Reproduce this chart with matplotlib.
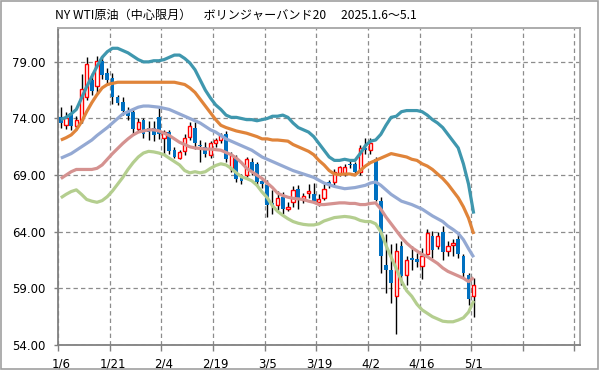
"""
WTI crude (front month) daily candles with Bollinger bands (20), 2025.1.6 - 5.1
"""
import matplotlib
matplotlib.use('Agg')
import matplotlib.pyplot as plt
from matplotlib.patches import Rectangle
from matplotlib.ticker import FixedLocator, FuncFormatter, NullFormatter

TITLE = "NY WTI原油（中心限月）　ボリンジャーバンド20　 2025.1.6～5.1"
TICK_LABELS = ['1/6', '1/21', '2/4', '2/19', '3/5', '3/19', '4/2', '4/16', '5/1']
Y_TICKS = [54, 59, 64, 69, 74, 79]

# daily OHLC, one entry per trading day
opens = [74.1, 73.4, 74.5, 73.3, 73.9, 75.9, 77.4, 76.9, 79.1, 78.0,
         77.6, 75.9, 75.5, 74.7, 74.6, 73.1, 73.9, 73.2, 73.2, 74.1,
         72.3, 72.8, 71.2, 70.5, 71.1, 72.4, 73.2, 71.7, 71.5, 70.8,
         71.8, 72.1, 72.6, 69.5, 70.5, 68.9, 69.0, 70.2, 70.0, 68.5,
         68.1, 66.5, 66.4, 67.1, 66.0, 66.6, 67.8, 66.8, 67.4, 67.3,
         66.6, 67.0, 68.4, 68.4, 69.2, 69.1, 70.0, 70.0, 69.3, 71.4,
         71.2, 70.4, 66.7, 61.1, 60.6, 58.3, 62.75, 60.2, 61.7, 61.6,
         61.0, 62.0, 63.6, 62.75, 64.0, 62.3, 62.8, 63.4, 61.9, 60.2,
         58.3]
highs = [75.0, 74.6, 75.2, 74.2, 77.9, 79.4, 78.0, 79.5, 79.5, 78.5,
         78.0, 76.1, 75.9, 75.0, 74.9, 74.0, 74.0, 73.8, 73.8, 75.1,
         73.0, 73.0, 71.5, 71.2, 72.6, 73.7, 73.7, 72.1, 71.9, 72.0,
         72.3, 72.7, 72.9, 71.0, 70.8, 69.1, 70.6, 70.5, 70.2, 68.7,
         68.6, 67.7, 67.6, 67.5, 66.6, 68.0, 68.1, 67.4, 68.2, 68.3,
         67.3, 68.2, 68.6, 69.5, 69.8, 70.0, 70.3, 70.2, 71.7, 72.3,
         72.3, 70.6, 67.1, 63.8, 62.9, 63.0, 63.2, 61.9, 62.7, 62.1,
         62.6, 64.2, 64.1, 64.0, 64.5, 63.2, 63.4, 63.8, 62.0, 60.4,
         59.9]
lows = [73.2, 73.1, 73.0, 73.0, 73.6, 75.6, 76.1, 76.2, 77.5, 77.1,
        75.3, 75.2, 74.3, 73.9, 72.5, 72.9, 72.3, 72.1, 72.0, 72.2,
        70.9, 70.9, 70.5, 70.4, 70.8, 72.1, 71.3, 70.2, 70.6, 70.5,
        71.5, 71.8, 70.2, 69.3, 68.4, 68.2, 68.8, 69.0, 68.0, 67.9,
        65.3, 65.6, 65.9, 65.6, 65.8, 66.2, 66.0, 66.5, 67.0, 66.5,
        66.3, 66.8, 67.9, 68.0, 68.9, 68.9, 69.6, 69.1, 69.0, 70.9,
        70.9, 66.7, 60.4, 58.6, 57.7, 55.0, 59.3, 59.3, 60.6, 60.9,
        59.8, 61.9, 61.7, 62.5, 61.5, 61.9, 61.9, 61.7, 59.9, 57.5,
        56.5]
closes = [73.6, 74.0, 73.3, 73.9, 76.6, 78.8, 76.4, 79.1, 77.8, 77.4,
          75.9, 75.4, 74.7, 74.2, 73.1, 73.7, 72.6, 72.8, 72.5, 72.6,
          72.8, 71.1, 70.6, 71.0, 72.3, 73.3, 71.8, 71.6, 70.9, 71.8,
          72.1, 72.5, 70.4, 70.8, 68.7, 68.5, 70.4, 69.4, 68.4, 68.2,
          66.4, 66.4, 67.0, 66.0, 66.2, 67.7, 66.8, 67.2, 67.6, 66.7,
          66.9, 67.8, 68.2, 69.3, 69.7, 69.7, 69.9, 69.3, 71.4, 71.2,
          71.8, 66.8, 61.9, 60.6, 59.5, 62.3, 60.1, 61.5, 61.5, 61.3,
          61.9, 63.9, 62.4, 63.6, 62.2, 62.75, 63.0, 62.0, 60.4, 58.1,
          59.3]

# Bollinger band lines
upper2 = [73.9, 74.1, 74.4, 74.8, 75.8, 76.8, 77.7, 78.6, 79.4, 79.9,
          80.2, 80.2, 80.0, 79.8, 79.5, 79.2, 79.0, 79.0, 79.1, 79.1,
          79.2, 79.4, 79.6, 79.6, 79.3, 78.9, 78.3, 77.4, 76.5, 75.8,
          75.2, 74.8, 74.3, 74.1, 74.1, 74.0, 73.9, 73.9, 73.8, 73.9,
          74.0, 74.2, 74.2, 74.3, 74.1, 73.6, 73.2, 73.0, 72.8, 72.4,
          71.8, 71.2, 70.6, 70.3, 70.3, 70.4, 70.3, 70.3, 70.9, 71.6,
          72.0, 72.1, 72.6, 73.4, 74.1, 74.2, 74.6, 74.7, 74.7, 74.7,
          74.6, 74.3, 73.9, 73.6, 73.2, 72.6, 72.0, 71.4, 70.0, 68.2,
          65.6]
upper1 = [72.1, 72.3, 72.55, 73.0, 73.7, 74.6, 75.4, 76.1, 76.7, 77.0,
          77.1, 77.2, 77.2, 77.2, 77.2, 77.2, 77.2, 77.2, 77.2, 77.2,
          77.2, 77.2, 77.2, 77.1, 77.0, 76.7, 76.3, 75.7, 75.1, 74.5,
          73.9, 73.4, 73.2, 73.05, 72.9, 72.8, 72.7, 72.55, 72.4, 72.2,
          72.2, 72.1, 72.1, 72.05, 72.0, 71.7, 71.5, 71.3, 71.1, 70.8,
          70.3, 69.9, 69.4, 69.1, 69.05, 69.1, 69.1, 69.0, 69.4, 69.8,
          70.1, 70.3, 70.5, 70.7, 70.9, 70.8, 70.7, 70.6, 70.4, 70.3,
          70.0, 69.8, 69.5, 69.1, 68.7, 68.2, 67.6, 67.0, 66.2, 65.2,
          63.8]
middle = [70.5, 70.7, 70.9, 71.2, 71.5, 71.8, 72.1, 72.5, 72.85, 73.2,
          73.6, 74.0, 74.4, 74.6, 74.8, 75.0, 75.1, 75.1, 75.05, 75.0,
          74.9, 74.8, 74.6, 74.4, 74.2, 74.0, 73.8, 73.6, 73.3, 73.0,
          72.8, 72.5, 72.2, 72.0, 71.8, 71.6, 71.4, 71.2, 70.9, 70.6,
          70.4, 70.2, 70.0, 69.8, 69.6, 69.4, 69.25, 69.1, 68.95, 68.8,
          68.55, 68.3, 68.15, 68.0, 67.9, 67.8, 67.85, 67.9, 68.0, 68.1,
          68.3, 68.4, 68.1, 67.7, 67.3, 67.0, 66.7, 66.55, 66.4, 66.2,
          66.0, 65.7, 65.4, 65.15, 64.9, 64.5, 64.2, 63.85, 63.3, 62.5,
          61.75]
lower1 = [68.7, 69.0, 69.3, 69.5, 69.5, 69.5, 69.5, 69.6, 69.9, 70.4,
          70.9, 71.35, 71.8, 72.2, 72.55, 72.8, 72.9, 73.0, 73.0, 72.9,
          72.7, 72.5, 72.2, 71.9, 71.7, 71.5, 71.4, 71.35, 71.3, 71.3,
          71.25, 71.2, 71.0, 70.8, 70.5, 70.1, 69.6, 69.3, 69.0, 68.7,
          68.3, 67.9, 67.4, 67.2, 67.05, 66.95, 66.9, 66.85, 66.7, 66.6,
          66.4, 66.4, 66.45, 66.5, 66.55, 66.55, 66.5, 66.5, 66.4, 66.4,
          66.5, 66.55, 66.0, 65.3, 64.7, 64.1, 63.5, 63.0, 62.6, 62.3,
          62.0, 61.8, 61.5, 61.2, 60.8, 60.5, 60.3, 60.1, 59.9, 59.6,
          59.95]
lower2 = [67.0, 67.3, 67.55, 67.7, 67.3, 66.85, 66.7, 66.6, 66.75, 67.1,
          67.6, 68.2, 68.8, 69.5, 70.1, 70.6, 70.95, 71.1, 71.05, 70.95,
          70.8, 70.5, 70.2, 69.9, 69.4, 69.2, 69.3, 69.2, 69.3, 69.6,
          69.85, 70.0, 69.9, 69.6, 69.2, 68.85, 68.7, 68.5, 68.1, 67.5,
          67.0, 66.3, 65.8, 65.45, 65.15, 64.9, 64.75, 64.65, 64.6, 64.6,
          64.7, 64.95, 65.1, 65.25, 65.3, 65.35, 65.3, 65.2, 65.0, 64.9,
          64.9, 64.7, 64.0, 62.8, 61.75, 60.75, 59.65, 58.8, 58.3, 57.6,
          57.1, 56.8, 56.5, 56.3, 56.1, 56.05, 56.05, 56.2, 56.4, 56.9,
          57.9]

BAND_STYLE = [(upper2, '#3F97AE'), (upper1, '#E0843A'), (middle, '#94A9D3'),
              (lower1, '#D59290'), (lower2, '#B4CE8F')]
UP_COLOR, DOWN_COLOR = '#FF0000', '#0070C0'
GRID_COLOR = '#8C8C8C'


def draw_candles(ax, x):
    """Red hollow body for up days, solid blue for down days."""
    ax.vlines(x, lows, highs, color='black', lw=1.0, zorder=2)
    for xi, o, c in zip(x, opens, closes):
        h = max(abs(c - o), 0.06)
        if c >= o:
            ax.bar(xi, h, bottom=o, width=0.62, facecolor='white',
                   edgecolor=UP_COLOR, lw=1.0, zorder=3)
        else:
            ax.bar(xi, h, bottom=c, width=0.72, color=DOWN_COLOR, lw=0, zorder=3)


def main():
    fig = plt.figure(figsize=(5.99, 3.70), dpi=100)
    fig.patches.append(Rectangle((0.001, 0.002), 0.997, 0.996, transform=fig.transFigure,
                                 fill=False, edgecolor='#A0A0A0', lw=1.2))
    ax = fig.add_axes([0.0973, 0.0676, 0.871, 0.857])

    x = list(range(len(closes)))
    draw_candles(ax, x)
    for vals, col in BAND_STYLE:
        ax.plot(x, vals, color=col, lw=2.3, solid_capstyle='butt', zorder=4)

    ax.set_xlim(-0.5, 100.6)
    ax.set_ylim(54, 82)

    # gridlines sit on the category boundaries, labels under the candles
    bounds = [i - 0.5 for i in range(0, 101, 10)]
    ax.xaxis.set_major_locator(FixedLocator(bounds))
    ax.xaxis.set_major_formatter(NullFormatter())
    ax.xaxis.set_minor_locator(FixedLocator(list(range(0, 81, 10))))
    ax.xaxis.set_minor_formatter(FuncFormatter(lambda v, p: TICK_LABELS[p] if p < len(TICK_LABELS) else ''))
    ax.tick_params(axis='x', which='major', length=4, width=1, color='#808080', direction='out')
    ax.tick_params(axis='x', which='minor', length=0, pad=9, labelsize=8.5)

    ax.set_yticks(Y_TICKS)
    ax.yaxis.set_major_formatter(FuncFormatter(lambda v, p: f'{v:.2f}'))
    ax.tick_params(axis='y', length=3, width=1, color='#808080', pad=6, labelsize=8.5)

    ax.grid(True, which='major', color=GRID_COLOR, linestyle=(0, (3.5, 2.5)), lw=0.9)
    ax.set_axisbelow(True)
    for side in ['left', 'bottom']:
        ax.spines[side].set_color('#808080')
        ax.spines[side].set_linewidth(1.3)
    for side in ['top', 'right']:
        ax.spines[side].set_color('#A6A6A6')
        ax.spines[side].set_linewidth(1.3)

    fig.text(55 / 599, 1 - 15 / 370, TITLE, fontsize=8.7, va='center', ha='left',
             family=['Noto Sans CJK JP', 'DejaVu Sans'])

    fig.savefig('out.png', dpi=100, facecolor='white')
    plt.close(fig)


if __name__ == "__main__":
    main()
